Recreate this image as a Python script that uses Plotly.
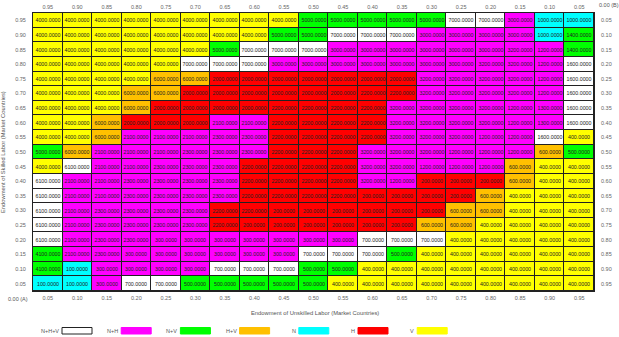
import plotly.graph_objects as go

# Endowment of unskilled labor (country A) along the bottom, left to right
col_vals = [0.05, 0.10, 0.15, 0.20, 0.25, 0.30, 0.35, 0.40, 0.45, 0.50,
            0.55, 0.60, 0.65, 0.70, 0.75, 0.80, 0.85, 0.90, 0.95]
# Endowment of skilled labor (country A), rows from top to bottom
row_vals = [0.95, 0.90, 0.85, 0.80, 0.75, 0.70, 0.65, 0.60, 0.55, 0.50,
            0.45, 0.40, 0.35, 0.30, 0.25, 0.20, 0.15, 0.10, 0.05]

row_095 = [4000, 4000, 4000, 4000, 4000, 4000, 4000, 4000, 4000, 5000, 5000, 5000, 5000, 5000, 7000, 7000, 3000, 1000, 1000]
row_090 = [4000, 4000, 4000, 4000, 4000, 4000, 4000, 4000, 5000, 5000, 7000, 7000, 7000, 3000, 3000, 3000, 3000, 1000, 1400]
row_085 = [4000, 4000, 4000, 4000, 4000, 4000, 5000, 7000, 7000, 7000, 3000, 3000, 3000, 3000, 3000, 3000, 3200, 1200, 1400]
row_080 = [4000, 4000, 4000, 4000, 4000, 7000, 7000, 7000, 3000, 3000, 3000, 3000, 3000, 3000, 3000, 3200, 3200, 1200, 1600]
row_075 = [4000, 4000, 4000, 4000, 6000, 6000, 2000, 2000, 2000, 2000, 2000, 2000, 2000, 3200, 3200, 3200, 3200, 1200, 1600]
row_070 = [4000, 4000, 4000, 6000, 6000, 2000, 2000, 2000, 2000, 2000, 2000, 2200, 2200, 3200, 3200, 3200, 3200, 1200, 1600]
row_065 = [4000, 4000, 4000, 6000, 2000, 2000, 2000, 2000, 2200, 2200, 2200, 2200, 3200, 3200, 3200, 3200, 1200, 1300, 1600]
row_060 = [4000, 4000, 6000, 2000, 2000, 2000, 2100, 2100, 2200, 2200, 2200, 2200, 3200, 3200, 3200, 3200, 1200, 1300, 1600]
row_055 = [4000, 4000, 6000, 2100, 2100, 2100, 2300, 2300, 2200, 2200, 2200, 2200, 3200, 3200, 3200, 1200, 1200, 1600, 400]
row_050 = [5000, 6000, 2100, 2100, 2100, 2300, 2300, 2300, 2200, 2200, 2200, 3200, 3200, 3200, 1200, 1200, 1200, 600, 500]
row_045 = [4000, 6100, 2100, 2100, 2300, 2300, 2300, 2200, 2200, 2200, 2200, 3200, 3200, 1200, 1200, 1200, 600, 400, 400]
row_040 = [6100, 2100, 2100, 2300, 2300, 2300, 2300, 2200, 2200, 2200, 2200, 3200, 1200, 200, 200, 200, 600, 400, 400]
row_035 = [6100, 2100, 2100, 2300, 2300, 2300, 2300, 2200, 2200, 2200, 2200, 200, 200, 200, 200, 600, 400, 400, 400]
row_030 = [6100, 2100, 2300, 2300, 2300, 2300, 2200, 2200, 200, 200, 200, 200, 200, 200, 600, 600, 400, 400, 400]
row_025 = [6100, 2100, 2300, 2300, 2300, 2300, 2200, 200, 200, 200, 200, 200, 200, 600, 600, 400, 400, 400, 400]
row_020 = [6100, 2100, 2300, 2300, 300, 300, 300, 300, 300, 300, 300, 700, 700, 700, 400, 400, 400, 400, 400]
row_015 = [4100, 2100, 2300, 300, 300, 300, 300, 300, 300, 700, 700, 700, 500, 400, 400, 400, 400, 400, 400]
row_010 = [4100, 100, 300, 300, 300, 300, 700, 700, 700, 500, 500, 400, 400, 400, 400, 400, 400, 400, 400]
row_005 = [100, 100, 300, 700, 700, 500, 500, 500, 500, 500, 400, 400, 400, 400, 400, 400, 400, 400, 400]

grid = [row_095, row_090, row_085, row_080, row_075, row_070, row_065, row_060, row_055, row_050,
        row_045, row_040, row_035, row_030, row_025, row_020, row_015, row_010, row_005]

legend_labels = ["N+H+V", "N+H", "N+V", "H+V", "N", "H", "V"]
legend_codes = [7, 3, 5, 6, 1, 2, 4]
region_colors = {1: "#00FFFF", 2: "#FF0000", 3: "#FF00FF", 4: "#FFFF00",
                 5: "#00FF00", 6: "#FFC000", 7: "#FFFFFF"}

x_title = "Endowment of Unskilled Labor (Market Countries)"
y_title = "Endowment of Skilled Labor (Market Countries)"
corner_a = "0.00 (A)"
corner_b = "0.00 (B)"


def region(v):
    return (v // 1000) | ((v // 100) % 10)


z = [[region(v) for v in row] for row in grid]
text = [["%.4f" % v for v in row] for row in grid]

colorscale = []
for k in range(1, 8):
    colorscale.append([(k - 1) / 7, region_colors[k]])
    colorscale.append([k / 7, region_colors[k]])

FONT = "Liberation Sans, Arial, sans-serif"
W, H = 619, 337
L, R, T, B = 33, 25, 13, 46
PW, PH = W - L - R, H - T - B

fig = go.Figure()
fig.add_trace(go.Heatmap(
    x=col_vals, y=row_vals, z=z, text=text, texttemplate="%{text}",
    textfont=dict(size=5.3, color="#222", family=FONT),
    colorscale=colorscale, zmin=0.5, zmax=7.5, showscale=False,
    xgap=1, ygap=1, hoverinfo="skip",
))
# invisible trace to carry the mirrored (top / right) axes
fig.add_trace(go.Scatter(x=col_vals, y=row_vals, xaxis="x2", yaxis="y2",
                         mode="markers", marker=dict(opacity=0), hoverinfo="skip",
                         showlegend=False))

tick_font = dict(size=5.5, color="#666", family=FONT)
xr = [0.025, 0.975]
common = dict(range=xr, showgrid=False, zeroline=False, ticks="", tickfont=tick_font,
              automargin=False, fixedrange=True)
fig.update_layout(
    width=W, height=H, margin=dict(l=L, r=R, t=T, b=B, autoexpand=False),
    paper_bgcolor="white", plot_bgcolor="#222",
    showlegend=False,
    xaxis=dict(tickvals=col_vals, ticktext=["%.2f" % v for v in col_vals],
               showline=True, linecolor="#222", linewidth=1, mirror=True,
               ticklabelstandoff=1, **common),
    yaxis=dict(tickvals=row_vals, ticktext=["%.2f" % v for v in row_vals],
               showline=True, linecolor="#222", linewidth=1, mirror=True,
               ticklabelstandoff=5, **common),
    xaxis2=dict(overlaying="x", side="top", tickvals=col_vals,
                ticktext=["%.2f" % (1 - v) for v in col_vals],
                ticklabelstandoff=2, **common),
    yaxis2=dict(overlaying="y", side="right", tickvals=row_vals,
                ticktext=["%.2f" % (1 - v) for v in row_vals],
                ticklabelstandoff=6, **common),
)


def to_paper(v):
    return (v - xr[0]) / (xr[1] - xr[0])


ann_font = dict(size=5.5, color="#555", family=FONT)
fig.add_annotation(x=to_paper(0.0), y=0, xref="paper", yref="paper", xanchor="center",
                   yanchor="top", yshift=-2.5, text=corner_a, showarrow=False, font=ann_font)
fig.add_annotation(x=to_paper(1.0), y=1, xref="paper", yref="paper", xanchor="center",
                   yanchor="bottom", yshift=2.5, text=corner_b, showarrow=False, font=ann_font)
fig.add_annotation(x=(315 - L) / PW, y=(T + PH - 312.5) / PH, xref="paper", yref="paper",
                   xanchor="center", yanchor="middle",
                   text=x_title, showarrow=False, font=dict(size=5.8, color="#555", family=FONT))
fig.add_annotation(x=(3 - L) / PW, y=0.5, xref="paper", yref="paper", textangle=-90,
                   xanchor="center", yanchor="middle",
                   text=y_title, showarrow=False, font=dict(size=5.8, color="#555", family=FONT))

# custom legend: label then swatch
box_y0 = (T + PH - 334) / PH
box_y1 = (T + PH - 327.5) / PH
for i, (lab, code) in enumerate(zip(legend_labels, legend_codes)):
    left_px = 62 + 59.2 * i
    x0 = (left_px - L) / PW
    x1 = (left_px + 30 - L) / PW
    fig.add_shape(type="rect", xref="paper", yref="paper", x0=x0, x1=x1, y0=box_y0, y1=box_y1,
                  fillcolor=region_colors[code],
                  line=dict(color="#222" if code == 7 else region_colors[code], width=1))
    fig.add_annotation(x=x0, y=(box_y0 + box_y1) / 2, xref="paper", yref="paper",
                       xanchor="right", yanchor="middle", xshift=-1, text=lab,
                       showarrow=False, font=ann_font)

fig.write_html("out.html")
